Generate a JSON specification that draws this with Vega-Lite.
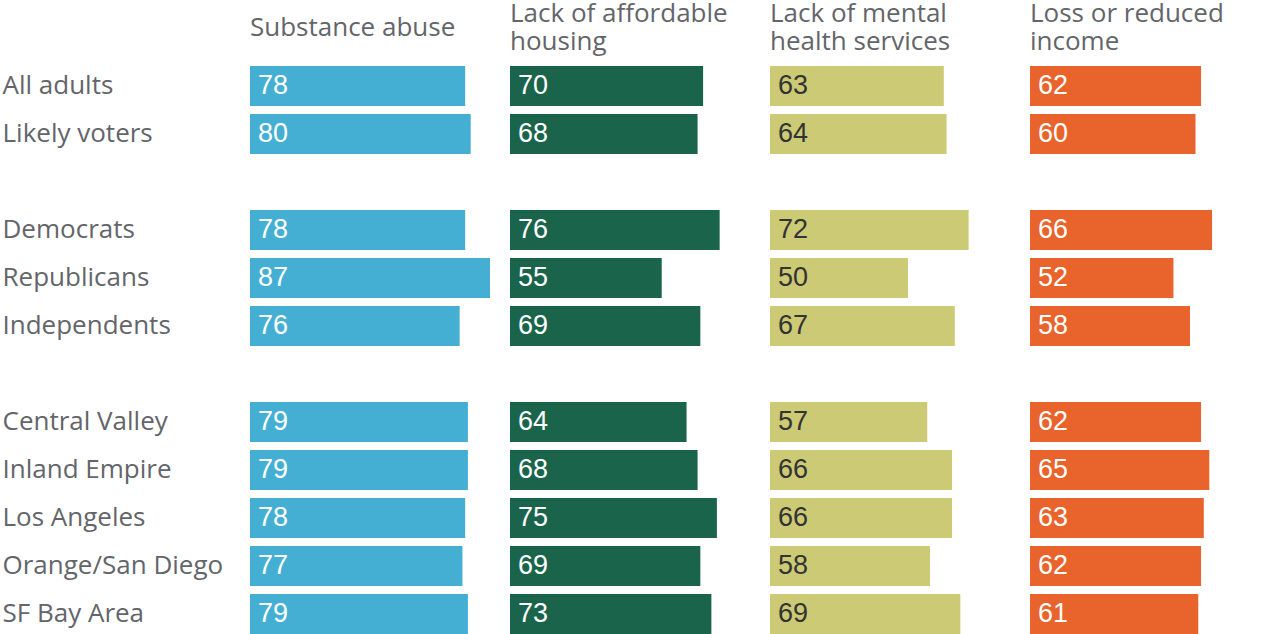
{
  "$schema": "https://vega.github.io/schema/vega-lite/v6.json",
  "padding": {"left": 2, "top": 1, "right": 0, "bottom": 0},
  "background": "white",
  "config": {
    "view": {"stroke": null},
    "concat": {"spacing": 0},
    "title": {"anchor": "start", "frame": "group", "font": "Open Sans", "fontSize": 26, "fontWeight": "normal", "color": "#63656a", "baseline": "alphabetic", "lineHeight": 28}
  },
  "data": {"values": [
    {"group": "All adults", "substance": 78, "housing": 70, "mental": 63, "income": 62},
    {"group": "Likely voters", "substance": 80, "housing": 68, "mental": 64, "income": 60},
    {"group": "Democrats", "substance": 78, "housing": 76, "mental": 72, "income": 66},
    {"group": "Republicans", "substance": 87, "housing": 55, "mental": 50, "income": 52},
    {"group": "Independents", "substance": 76, "housing": 69, "mental": 67, "income": 58},
    {"group": "Central Valley", "substance": 79, "housing": 64, "mental": 57, "income": 62},
    {"group": "Inland Empire", "substance": 79, "housing": 68, "mental": 66, "income": 65},
    {"group": "Los Angeles", "substance": 78, "housing": 75, "mental": 66, "income": 63},
    {"group": "Orange/San Diego", "substance": 77, "housing": 69, "mental": 58, "income": 62},
    {"group": "SF Bay Area", "substance": 79, "housing": 73, "mental": 69, "income": 61}
  ]},
  "hconcat": [
    {
      "width": 260, "height": 576,
      "title": {"text": ["Substance abuse"], "offset": 21},
      "encoding": {"y": {"field": "group", "type": "nominal", "scale": {"domain": ["All adults", "Likely voters", " ", "Democrats", "Republicans", "Independents", "  ", "Central Valley", "Inland Empire", "Los Angeles", "Orange/San Diego", "SF Bay Area"], "paddingInner": 0.16667, "paddingOuter": 0.08333}, "axis": {"title": null, "domain": false, "ticks": false, "labelAlign": "left", "labelPadding": 248, "labelLimit": 0, "labelFont": "Open Sans", "labelFontSize": 26, "labelColor": "#63656a", "labelBaseline": "middle"}}},
      "layer": [
        {"mark": {"type": "bar", "color": "#45AFD3"}, "encoding": {"x": {"field": "substance", "type": "quantitative", "scale": {"domain": [0, 94.25], "nice": false}, "axis": null}}},
        {"mark": {"type": "text", "align": "left", "baseline": "middle", "dx": 8, "font": "Liberation Sans", "fontSize": 27, "color": "white"}, "encoding": {"x": {"datum": 0, "type": "quantitative"}, "text": {"field": "substance", "type": "quantitative"}}}
      ]
    },
    {
      "width": 260, "height": 576,
      "title": {"text": ["Lack of affordable", "housing"], "offset": 7},
      "encoding": {"y": {"field": "group", "type": "nominal", "scale": {"domain": ["All adults", "Likely voters", " ", "Democrats", "Republicans", "Independents", "  ", "Central Valley", "Inland Empire", "Los Angeles", "Orange/San Diego", "SF Bay Area"], "paddingInner": 0.16667, "paddingOuter": 0.08333}, "axis": null}},
      "layer": [
        {"mark": {"type": "bar", "color": "#1A644B"}, "encoding": {"x": {"field": "housing", "type": "quantitative", "scale": {"domain": [0, 94.25], "nice": false}, "axis": null}}},
        {"mark": {"type": "text", "align": "left", "baseline": "middle", "dx": 8, "font": "Liberation Sans", "fontSize": 27, "color": "white"}, "encoding": {"x": {"datum": 0, "type": "quantitative"}, "text": {"field": "housing", "type": "quantitative"}}}
      ]
    },
    {
      "width": 260, "height": 576,
      "title": {"text": ["Lack of mental", "health services"], "offset": 7},
      "encoding": {"y": {"field": "group", "type": "nominal", "scale": {"domain": ["All adults", "Likely voters", " ", "Democrats", "Republicans", "Independents", "  ", "Central Valley", "Inland Empire", "Los Angeles", "Orange/San Diego", "SF Bay Area"], "paddingInner": 0.16667, "paddingOuter": 0.08333}, "axis": null}},
      "layer": [
        {"mark": {"type": "bar", "color": "#CCCA74"}, "encoding": {"x": {"field": "mental", "type": "quantitative", "scale": {"domain": [0, 94.25], "nice": false}, "axis": null}}},
        {"mark": {"type": "text", "align": "left", "baseline": "middle", "dx": 8, "font": "Liberation Sans", "fontSize": 27, "color": "#333333"}, "encoding": {"x": {"datum": 0, "type": "quantitative"}, "text": {"field": "mental", "type": "quantitative"}}}
      ]
    },
    {
      "width": 260, "height": 576,
      "title": {"text": ["Loss or reduced", "income"], "offset": 7},
      "encoding": {"y": {"field": "group", "type": "nominal", "scale": {"domain": ["All adults", "Likely voters", " ", "Democrats", "Republicans", "Independents", "  ", "Central Valley", "Inland Empire", "Los Angeles", "Orange/San Diego", "SF Bay Area"], "paddingInner": 0.16667, "paddingOuter": 0.08333}, "axis": null}},
      "layer": [
        {"mark": {"type": "bar", "color": "#E9632C"}, "encoding": {"x": {"field": "income", "type": "quantitative", "scale": {"domain": [0, 94.25], "nice": false}, "axis": null}}},
        {"mark": {"type": "text", "align": "left", "baseline": "middle", "dx": 8, "font": "Liberation Sans", "fontSize": 27, "color": "white"}, "encoding": {"x": {"datum": 0, "type": "quantitative"}, "text": {"field": "income", "type": "quantitative"}}}
      ]
    }
  ]
}
